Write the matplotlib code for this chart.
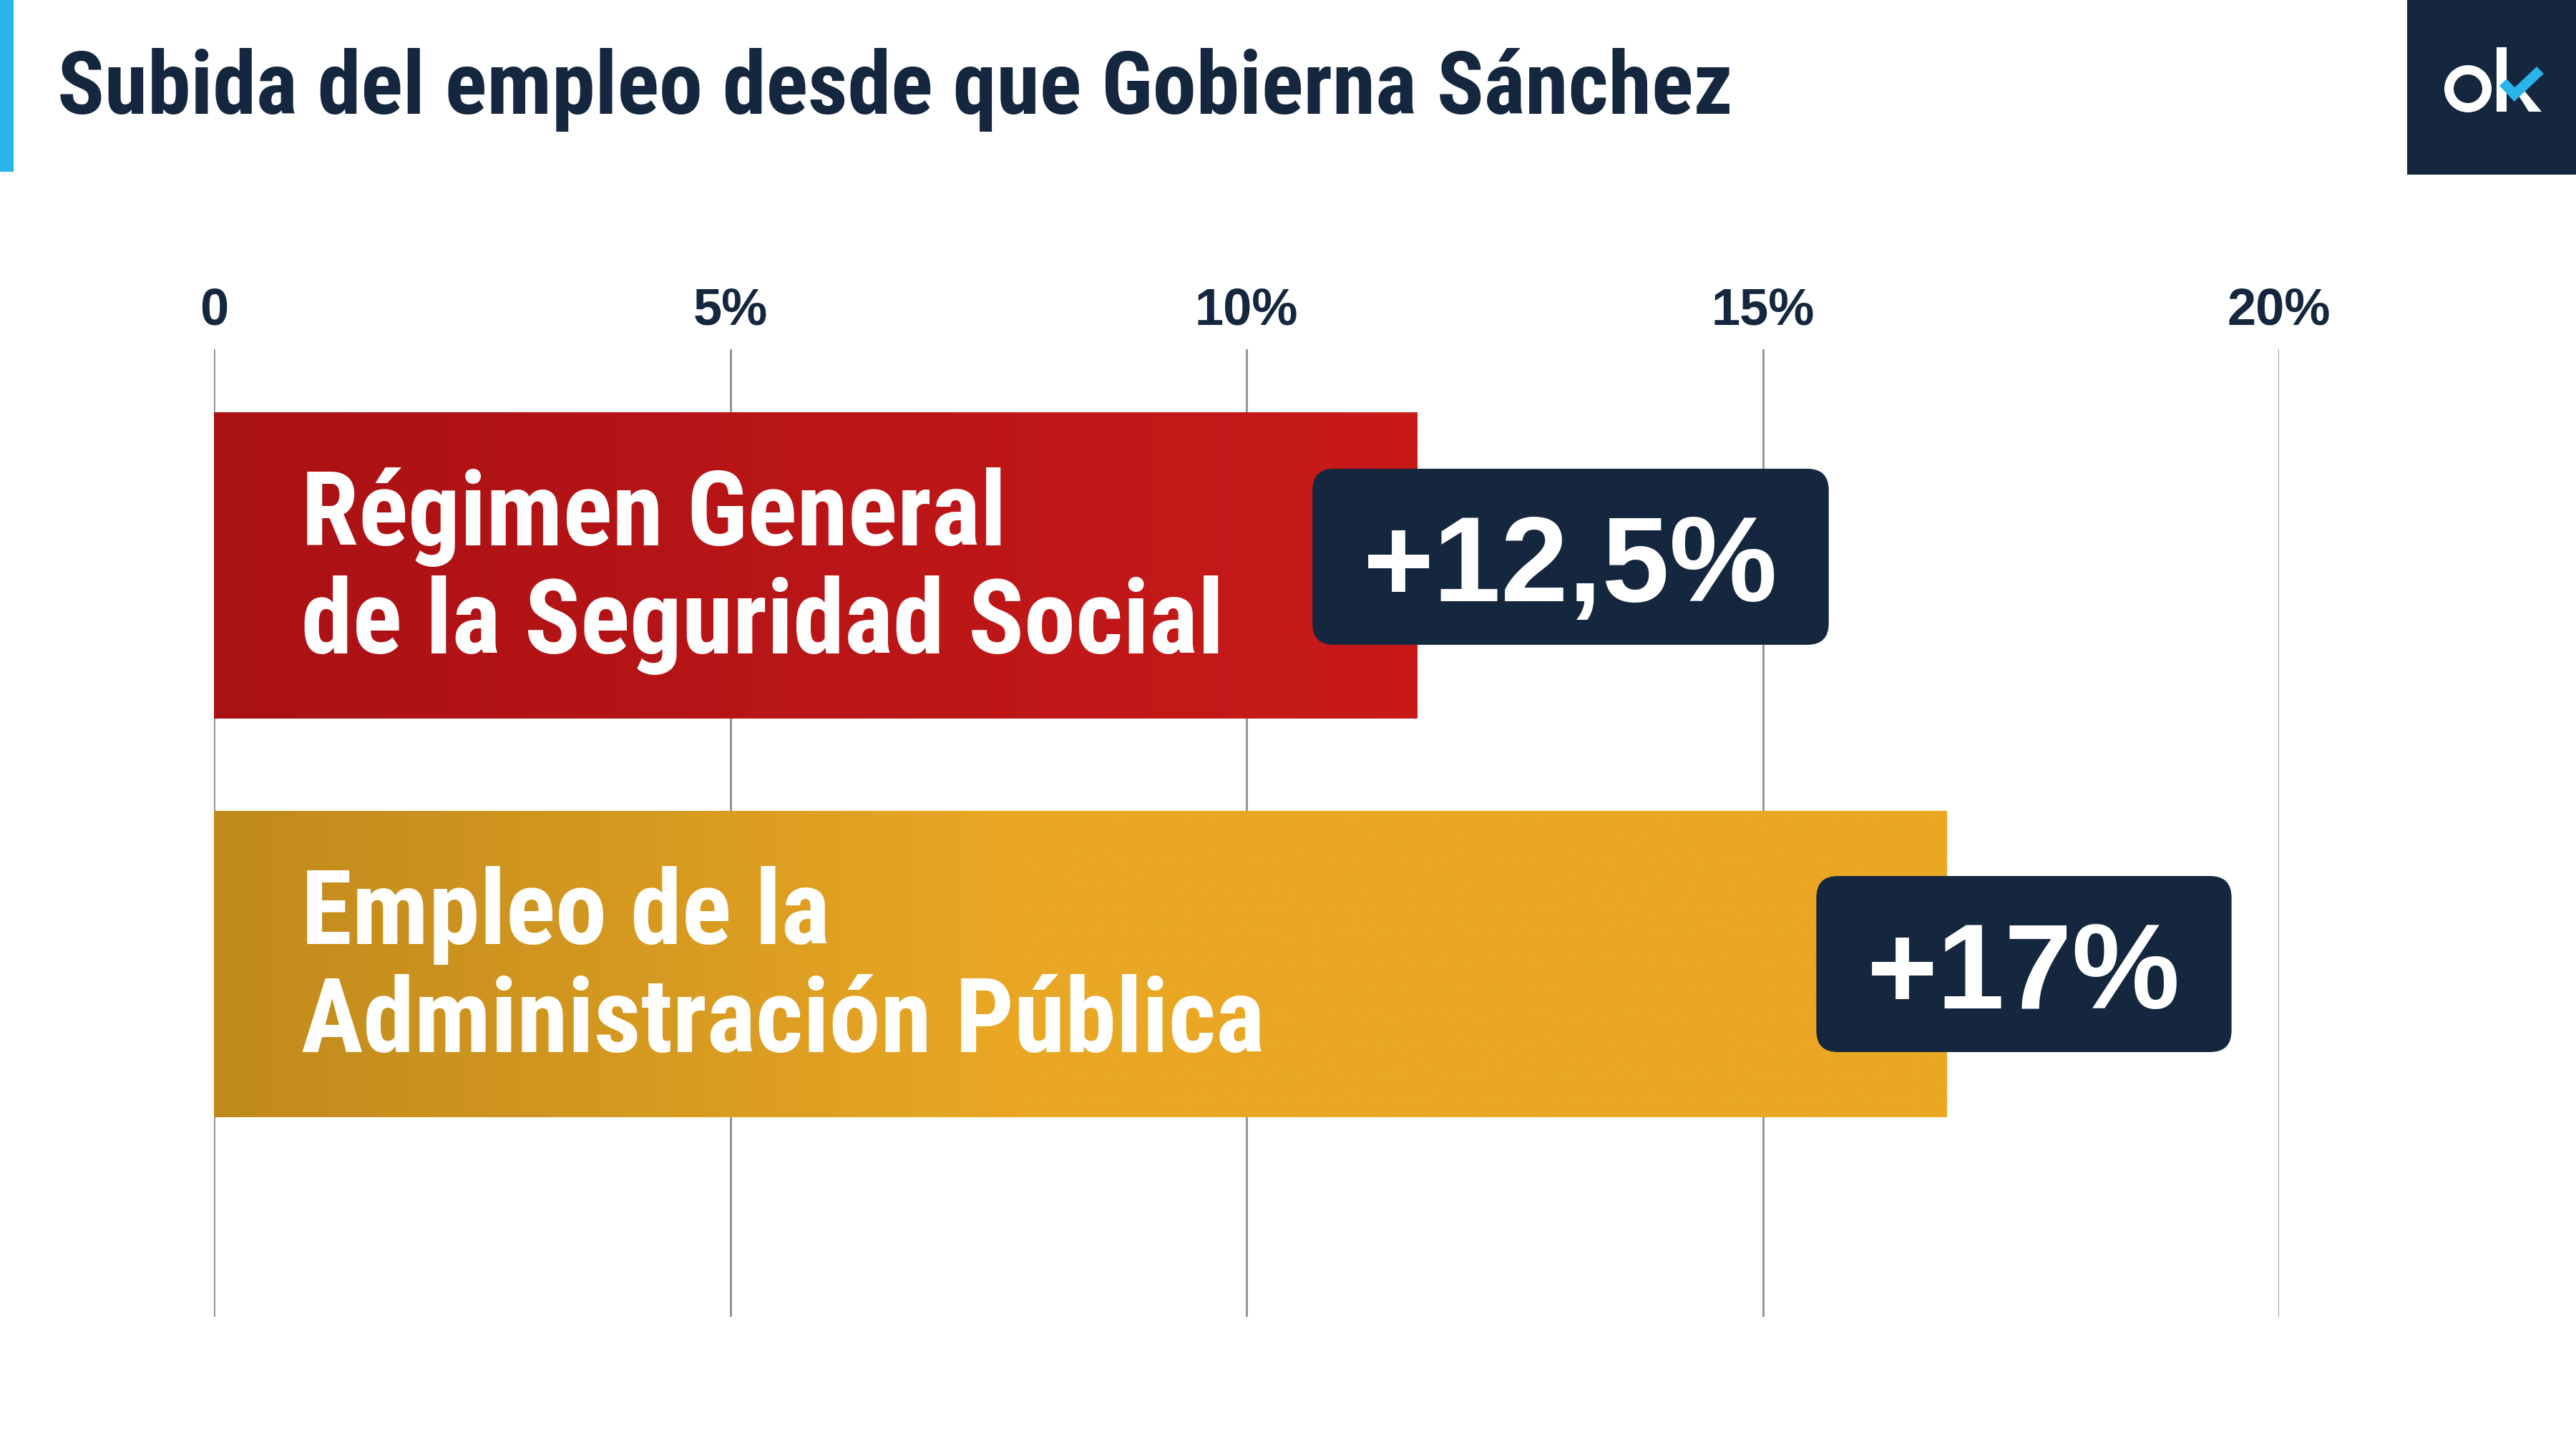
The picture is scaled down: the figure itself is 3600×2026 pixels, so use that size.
import numpy as np
import matplotlib
matplotlib.use("Agg")
import matplotlib.pyplot as plt
from matplotlib import font_manager
from matplotlib.patches import Rectangle, FancyBboxPatch, Annulus, Polygon
from matplotlib.colors import to_rgb
from matplotlib.transforms import IdentityTransform

# ---------------- data ----------------
title = "Subida del empleo desde que Gobierna Sánchez"
categories = ["Régimen General\nde la Seguridad Social",
              "Empleo de la\nAdministración Pública"]
bar_values = [11.65, 16.78]          # bar lengths as drawn (%)
value_labels = ["+12,5%", "+17%"]
xticks = [0, 5, 10, 15, 20]
xtick_labels = ["0", "5%", "10%", "15%", "20%"]

# ---------------- style ----------------
NAVY = "#15273F"
BLUE = "#29B5EA"
GRID = "#8E8E8E"
grad_left = ["#AA1114", "#C08A1C"]
grad_right = ["#C91A1A", "#E9A724"]
grad_full_at = [1.0, 0.46]

# look for a condensed face if one happens to be installed
names = {f.name for f in font_manager.fontManager.ttflist}
narrow_pref = ["Roboto Condensed", "Liberation Sans Narrow", "Open Sans Condensed",
               "Noto Sans Condensed", "Archivo Narrow"]
NARROW = [n for n in narrow_pref if n in names] + ["Liberation Sans", "DejaVu Sans"]
WIDE = ["Liberation Sans", "DejaVu Sans"]

W, H = 3600, 2026
DPI = 100
fig = plt.figure(figsize=(W / DPI, H / DPI), dpi=DPI)
fig.patch.set_facecolor("white")

# overlay axes in pixel units for decoration
deco = fig.add_axes([0, 0, 1, 1])
deco.set_xlim(0, W)
deco.set_ylim(H, 0)
deco.axis("off")
deco.set_zorder(5)
deco.patch.set_alpha(0)

# left accent
deco.add_patch(Rectangle((0, 0), 19, 240, facecolor=BLUE, edgecolor="none"))
# logo
deco.add_patch(Rectangle((3364, 0), 236, 244, facecolor=NAVY, edgecolor="none"))
deco.add_patch(Annulus((3449, 124), 33, 13, facecolor="white", edgecolor="none"))
deco.add_patch(Rectangle((3489, 66), 14, 90, facecolor="white", edgecolor="none"))
deco.add_patch(Polygon([(3517, 129), (3534, 156), (3552, 156), (3528, 127)],
                       closed=True, facecolor="white", edgecolor="none"))
deco.plot([3498, 3514, 3550], [115, 132, 98], color=BLUE, lw=10,
          solid_capstyle="butt", solid_joinstyle="miter")

# title
title_txt = fig.text(80 / W, 1 - 159 / H, title, fontsize=88, fontweight="bold",
                     color=NAVY, family=NARROW, va="baseline", ha="left")

# ---------------- main axes ----------------
ax = fig.add_axes([299 / W, 1 - 1840 / H, (3185 - 299) / W, 1352 / H])
ax.set_zorder(2)
ax.patch.set_alpha(0)
ypos = np.arange(len(categories))
bar_h = 0.768
bars = ax.barh(ypos, bar_values, height=bar_h, color=grad_right, zorder=2)

for i, b in enumerate(bars):
    c0 = np.array(to_rgb(grad_left[i]))
    c1 = np.array(to_rgb(grad_right[i]))
    t = np.clip(np.linspace(0, 1, 512) / grad_full_at[i], 0, 1)
    img = (c0[None, :] * (1 - t[:, None]) + c1[None, :] * t[:, None])[None, :, :]
    im = ax.imshow(img, extent=[0, bar_values[i], ypos[i] + bar_h / 2, ypos[i] - bar_h / 2],
                   aspect="auto", zorder=2.5, interpolation="bilinear")
    im.set_clip_path(b)

ax.set_xlim(0, 20)
ax.set_ylim(1.885, -0.542)
ax.xaxis.tick_top()
ax.set_xticks(xticks)
ax.set_xticklabels(xtick_labels)
ax.set_yticks([])
ax.tick_params(axis="x", length=0, pad=14, labelsize=52, labelcolor=NAVY)
for lab in ax.get_xticklabels():
    lab.set_fontweight("bold")
    lab.set_family(WIDE)
for s in ax.spines.values():
    s.set_visible(False)
ax.grid(axis="x", color=GRID, lw=2.0)
ax.set_axisbelow(True)

# category labels inside bars
cat_texts = []
for i, cat in enumerate(categories):
    lines = cat.split("\n")
    offs = [20, -88.5]
    for ln, off in zip(lines, offs):
        tt = ax.annotate(ln, xy=(0, ypos[i]), xytext=(88, off), textcoords="offset points",
                         ha="left", va="baseline", fontsize=104, fontweight="bold",
                         color="white", family=NARROW, zorder=4)
        cat_texts.append(tt)

# value labels
PX = 72 / DPI                 # points per pixel
padx, box_h, rad = 71, 246, 30
box_dx = [-146, -182]         # box left edge relative to bar end (px)
box_dy = [12, 0]              # box 1 sits slightly above its bar centre (px)
vtexts = []
for i, lab in enumerate(value_labels):
    t = ax.annotate(lab, xy=(bar_values[i], ypos[i]),
                    xytext=((box_dx[i] + padx) * PX, -44.6 + box_dy[i] * PX),
                    textcoords="offset points", ha="left", va="baseline",
                    fontsize=122, fontweight="bold", color="white",
                    family=WIDE, zorder=8, annotation_clip=False)
    vtexts.append(t)

fig.canvas.draw()
renderer = fig.canvas.get_renderer()

# fit text widths to the reference layout widths (px)
w_t = title_txt.get_window_extent(renderer).width
title_txt.set_fontsize(min(88, title_txt.get_fontsize() * 2344 / w_t))
w_line = cat_texts[1].get_window_extent(renderer).width   # "de la Seguridad Social"
cat_size = min(104, 104 * 1317 / w_line)
for tt in cat_texts:
    tt.set_fontsize(cat_size)
fig.canvas.draw()

for i, t in enumerate(vtexts):
    bb = t.get_window_extent(renderer)
    yc = ax.transData.transform((0, ypos[i]))[1] + box_dy[i]
    box = FancyBboxPatch((bb.x0 - padx, yc - box_h / 2), bb.width + 2 * padx, box_h,
                         boxstyle=f"round,pad=0,rounding_size={rad}",
                         facecolor=NAVY, edgecolor="none", zorder=6, clip_on=False)
    ax.add_patch(box)
    box.set_transform(IdentityTransform())

fig.savefig("out.png", dpi=DPI, facecolor="white")
